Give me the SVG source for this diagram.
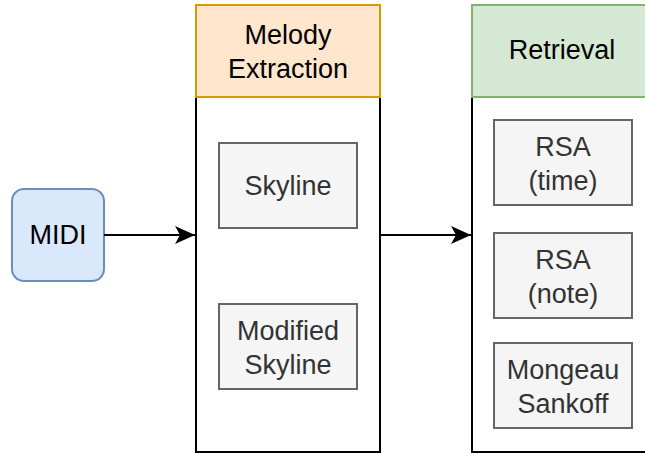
<svg xmlns="http://www.w3.org/2000/svg" width="645" height="454" viewBox="0 0 645 454">
<defs>
<style>
text{font-family:"Liberation Sans",Arial,sans-serif;font-size:27px;text-anchor:middle}
.inner{fill:#f5f5f5;stroke:#666666;stroke-width:2}
.inner-t{fill:#333333}
.body{fill:#ffffff;stroke:#000000;stroke-width:2}
.edge{stroke:#000000;stroke-width:2.2;fill:none}
</style>
<marker id="arr" markerWidth="22" markerHeight="20" refX="20" refY="9" orient="auto" markerUnits="userSpaceOnUse">
<path d="M0,0 L20,9 L0,18 L5,9 Z" fill="#000"/>
</marker>
</defs>
<g id="melody-extraction">
<rect class="body" x="196" y="97" width="184" height="355"/>
<rect x="196" y="5" width="184" height="92" fill="#ffe6cc" stroke="#d79b00" stroke-width="2"/>
<text x="288" y="44">Melody</text>
<text x="288" y="78">Extraction</text>
</g>
<g id="retrieval">
<rect class="body" x="472" y="97" width="184" height="355"/>
<rect x="472" y="5" width="184" height="92" fill="#d5e8d4" stroke="#82b366" stroke-width="2"/>
<text x="562" y="59">Retrieval</text>
</g>
<g id="midi">
<rect x="12" y="189" width="92" height="92" rx="12" fill="#dae8fc" stroke="#6c8ebf" stroke-width="2"/>
<text x="58" y="244">MIDI</text>
</g>
<g id="skyline">
<rect class="inner" x="219" y="143" width="138" height="85"/>
<text class="inner-t" x="288" y="195">Skyline</text>
</g>
<g id="modified-skyline">
<rect class="inner" x="219" y="304" width="138" height="85"/>
<text class="inner-t" x="288" y="340">Modified</text>
<text class="inner-t" x="288" y="374">Skyline</text>
</g>
<g id="rsa-time">
<rect class="inner" x="494" y="120" width="138" height="85"/>
<text class="inner-t" x="563" y="156">RSA</text>
<text class="inner-t" x="563" y="190">(time)</text>
</g>
<g id="rsa-note">
<rect class="inner" x="494" y="233" width="138" height="85"/>
<text class="inner-t" x="563" y="269">RSA</text>
<text class="inner-t" x="563" y="303">(note)</text>
</g>
<g id="mongeau-sankoff">
<rect class="inner" x="494" y="343" width="138" height="85"/>
<text class="inner-t" x="563" y="379">Mongeau</text>
<text class="inner-t" x="563" y="413">Sankoff</text>
</g>
<g id="connectors">
<path class="edge" d="M104,235 L195,235" marker-end="url(#arr)"/>
<path class="edge" d="M380,235 L471,235" marker-end="url(#arr)"/>
</g>
</svg>
